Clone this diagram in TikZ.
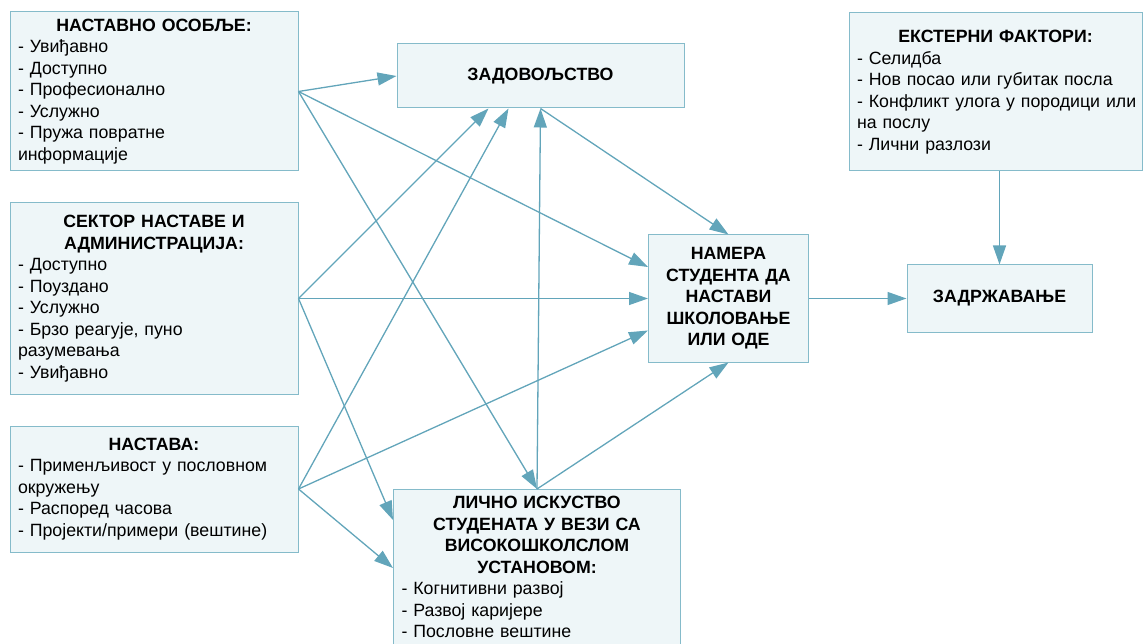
\documentclass[tikz,border=0pt]{standalone}
\usepackage{fontspec}
\setmainfont{Liberation Sans}
\usetikzlibrary{arrows.meta}

\definecolor{boxfill}{RGB}{238,246,248}
\definecolor{boxline}{RGB}{133,187,202}
\definecolor{linkc}{RGB}{98,165,186}

\begin{document}
\begin{tikzpicture}[x=1pt, y=-1pt, box/.style={rectangle, draw=boxline, fill=boxfill, line width=1pt, inner xsep=8pt, inner ysep=0pt, font=\fontsize{17.75}{21.5}\selectfont}, factor/.style={box, text width=272pt, align=left}, outcome/.style={box, align=center, font=\fontsize{17.75}{21.5}\selectfont\bfseries}, link/.style={draw=linkc, line width=1.3pt, -{Triangle[length=19pt, width=13pt]}}]

  \useasboundingbox (0,0) rectangle (1143,644);

  % factors on the left
  \node[factor, minimum height=159pt] (staff) at (154,91.5) {{\centering\bfseries НАСТАВНО ОСОБЉЕ:\par}
    - Увиђавно\\
    - Доступно\\
    - Професионално\\
    - Услужно\\
    - Пружа повратне\\
    информације};
  \node[factor, minimum height=191pt, below of=staff, node distance=207pt] (sector) {{\centering\bfseries СЕКТОР НАСТАВЕ И\\АДМИНИСТРАЦИЈА:\par}
    - Доступно\\
    - Поуздано\\
    - Услужно\\
    - Брзо реагује, пуно\\
    разумевања\\
    - Увиђавно};
  \node[factor, minimum height=126pt, below of=sector, node distance=190.5pt] (course) {{\centering\bfseries НАСТАВА:\par}
    - Применљивост у пословном\\
    окружењу\\
    - Распоред часова\\
    - Пројекти/примери (вештине)};

  % middle and right
  \node[outcome, minimum width=287pt, minimum height=64pt] (sat) at (540.5,76) {ЗАДОВОЉСТВО};
  \node[outcome, text width=144pt, minimum height=127pt, right of=sector, node distance=574.5pt] (intent) {НАМЕРА\\СТУДЕНТА ДА\\НАСТАВИ\\ШКОЛОВАЊЕ\\ИЛИ ОДЕ};
  \node[outcome, minimum width=185pt, minimum height=67pt, right of=intent, node distance=271pt] (ret) {ЗАДРЖАВАЊЕ};
  \node[factor, text width=277pt, minimum height=158pt] (ext) at (995.5,92) {{\centering\bfseries ЕКСТЕРНИ ФАКТОРИ:\par}
    - Селидба\\
    - Нов посао или губитак посла\\
    \mbox{- Конфликт улога у породици или}\\
    на послу\\
    - Лични разлози};
  \node[factor, text width=271pt, anchor=north, inner ysep=7pt] (exp) at (537,489) {{\centering\bfseries ЛИЧНО ИСКУСТВО\\СТУДЕНАТА У ВЕЗИ СА\\ВИСОКОШКОЛСЛОМ\\УСТАНОВОМ:\par}
    - Когнитивни развој\\
    - Развој каријере\\
    - Пословне вештине\\
    \strut};

  % connectors
  \draw[link] (staff.east) -- (sat.west);
  \draw[link] (staff.east) -- ([yshift=31.5pt]intent.west);
  \draw[link] (staff.east) -- (exp.north);
  \draw[link] (sector.east) -- ([xshift=-52pt]sat.south);
  \draw[link] (sector.east) -- (intent.west);
  \draw[link] (sector.east) -- ([yshift=-31pt]exp.north west);
  \draw[link] (course.east) -- ([xshift=-32pt]sat.south);
  \draw[link] (course.east) -- ([yshift=-32pt]intent.west);
  \draw[link] (course.east) -- ([yshift=-79pt]exp.north west);
  \draw[link] (exp.north) -- (sat.south);
  \draw[link] (exp.north) -- (intent.south);
  \draw[link] (sat.south) -- (intent.north);
  \draw[link] (intent) -- (ret);
  \draw[link] (ext.south -| ret.north) -- (ret.north);
\end{tikzpicture}
\end{document}
